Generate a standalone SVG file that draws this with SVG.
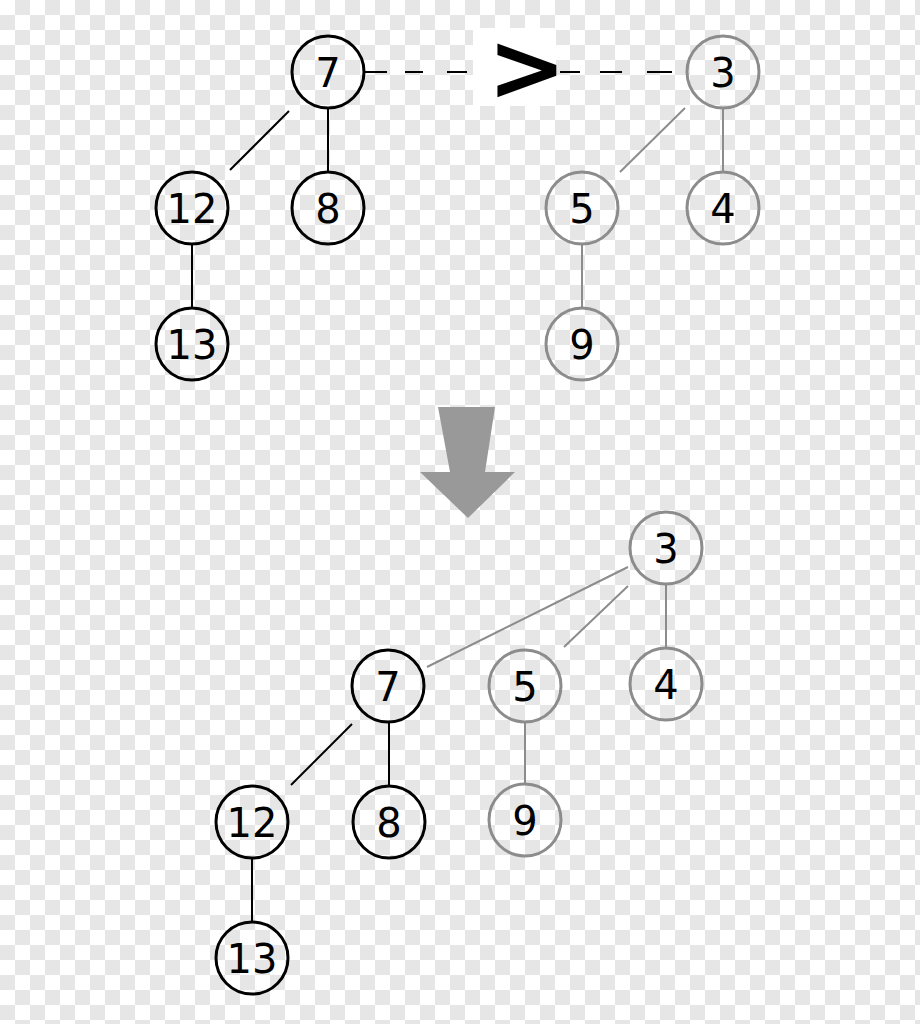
<svg xmlns="http://www.w3.org/2000/svg" width="920" height="1024" viewBox="0 0 920 1024">
<defs>
<pattern id="checker" patternUnits="userSpaceOnUse" width="30" height="30">
<rect width="30" height="30" fill="#ffffff"/>
<rect x="15" y="0" width="15" height="15" fill="#e6e6e6"/>
<rect x="0" y="15" width="15" height="15" fill="#e6e6e6"/>
</pattern>
<style>
.nb circle{fill:none;stroke:#000;stroke-width:3}
.ng circle{fill:none;stroke:#8c8c8c;stroke-width:3}
text{font-family:"DejaVu Sans",sans-serif;font-size:40px;fill:#000;text-anchor:middle}
.eb{stroke:#000;stroke-width:2;fill:none}
.eg{stroke:#8c8c8c;stroke-width:2;fill:none}
</style>
</defs>
<rect width="920" height="1024" fill="url(#checker)"/>
<g id="connectors">
<line class="eb" x1="364" y1="72" x2="472" y2="72" stroke-dasharray="23 18 18 24 20 20"/>
<line class="eb" x1="560" y1="72" x2="687" y2="72" stroke-dasharray="20 20 22 25 25 40"/>
<rect x="473" y="28" width="83" height="78" fill="#ffffff"/>
<line class="eb" x1="289" y1="111" x2="230" y2="170"/>
<line class="eb" x1="328" y1="108" x2="328" y2="172"/>
<line class="eb" x1="192" y1="244" x2="192" y2="308"/>
<line class="eg" x1="685" y1="108" x2="620" y2="172"/>
<line class="eg" x1="723" y1="108" x2="723" y2="172"/>
<line class="eg" x1="582" y1="244" x2="582" y2="308"/>
<line class="eg" x1="628" y1="567" x2="427" y2="667"/>
<line class="eg" x1="628" y1="586" x2="564" y2="647"/>
<line class="eg" x1="666" y1="584" x2="666" y2="648"/>
<line class="eg" x1="525" y1="722" x2="525" y2="784"/>
<line class="eb" x1="352" y1="724" x2="291" y2="785"/>
<line class="eb" x1="389" y1="722" x2="389" y2="786"/>
<line class="eb" x1="252" y1="859" x2="252" y2="922"/>
</g>
<g id="compare">
<text x="527" y="100" style="font-size:94px;font-weight:bold">&gt;</text>
</g>
<g id="arrow">
<polygon points="438,407 495,407 485,472 515,472 468,518 420,472 450,472" fill="#999999"/>
</g>
<g id="t7" class="nb"><circle cx="328" cy="72" r="36"/><text x="328" y="87">7</text></g>
<g id="t12" class="nb"><circle cx="192" cy="208" r="36"/><text x="192" y="223">12</text></g>
<g id="t8" class="nb"><circle cx="328" cy="208" r="36"/><text x="328" y="223">8</text></g>
<g id="t13" class="nb"><circle cx="192" cy="344" r="36"/><text x="192" y="359">13</text></g>
<g id="t3" class="ng"><circle cx="723" cy="72" r="36"/><text x="723" y="87">3</text></g>
<g id="t5" class="ng"><circle cx="582" cy="208" r="36"/><text x="582" y="223">5</text></g>
<g id="t4" class="ng"><circle cx="723" cy="208" r="36"/><text x="723" y="223">4</text></g>
<g id="t9" class="ng"><circle cx="582" cy="344" r="36"/><text x="582" y="359">9</text></g>
<g id="b3" class="ng"><circle cx="666" cy="548" r="36"/><text x="666" y="563">3</text></g>
<g id="b7" class="nb"><circle cx="388" cy="686" r="36"/><text x="388" y="701">7</text></g>
<g id="b5" class="ng"><circle cx="525" cy="686" r="36"/><text x="525" y="701">5</text></g>
<g id="b4" class="ng"><circle cx="666" cy="684" r="36"/><text x="666" y="699">4</text></g>
<g id="b12" class="nb"><circle cx="252" cy="822" r="36"/><text x="252" y="837">12</text></g>
<g id="b8" class="nb"><circle cx="389" cy="822" r="36"/><text x="389" y="837">8</text></g>
<g id="b9" class="ng"><circle cx="525" cy="820" r="36"/><text x="525" y="835">9</text></g>
<g id="b13" class="nb"><circle cx="252" cy="958" r="36"/><text x="252" y="973">13</text></g>
</svg>
